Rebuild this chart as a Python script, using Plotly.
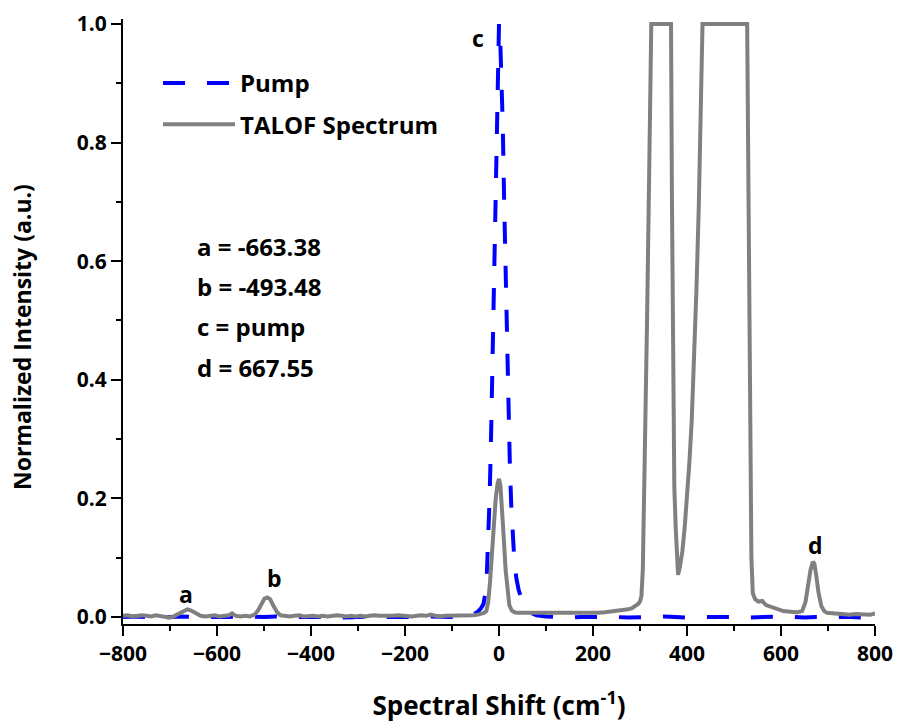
import plotly.graph_objects as go

# Pump line (normalized), spectral shift in cm^-1
pump_x = [-800, -775, -750, -725, -700, -675, -650, -625, -600, -575, -550, -525,
          -500, -475, -450, -425, -400, -375, -350, -325, -300, -275, -250, -225,
          -200, -175, -150, -125, -100, -80, -65, -55, -45, -38, -33, -29, -26,
          -23, -20, -17, -14, -11, -8, -5, -2, 0, 2, 5, 8, 11, 14, 17, 20, 23,
          26, 29, 33, 37, 42, 48, 55, 65, 80, 100, 125, 150, 175, 200, 225, 250,
          275, 300, 325, 350, 375, 400, 425, 450, 475, 500, 525, 550, 575, 600,
          625, 650, 675, 700, 725, 750, 775, 800]
pump_y = [0.000, 0.001, 0.000, -0.001, 0.000, 0.001, 0.000, 0.000, -0.001, 0.000,
          0.001, 0.000, 0.000, 0.001, -0.001, 0.000, 0.000, 0.001, 0.000, -0.001,
          0.000, 0.001, 0.000, 0.000, -0.001, 0.000, 0.001, 0.000, 0.000, 0.001,
          0.002, 0.004, 0.009, 0.015, 0.022, 0.040, 0.070, 0.120, 0.200, 0.300,
          0.430, 0.570, 0.720, 0.860, 0.970, 1.000, 0.990, 0.930, 0.830, 0.700,
          0.570, 0.460, 0.350, 0.260, 0.190, 0.140, 0.090, 0.065, 0.045, 0.030,
          0.018, 0.008, 0.003, 0.001, 0.000, -0.001, 0.000, 0.000, 0.001, 0.000,
          -0.001, 0.000, 0.000, 0.001, 0.000, -0.001, 0.000, 0.000, 0.001, 0.000,
          -0.001, 0.000, 0.000, 0.001, 0.000, -0.001, 0.000, 0.000, 0.001, 0.000,
          -0.001, 0.000]

# TALOF spectrum (normalized, saturated regions clipped at 1.0)
talof_x = [-800, -790, -780, -770, -760, -750, -740, -730, -720, -710, -700, -690,
           -680, -670, -663, -655, -645, -635, -625, -615, -605, -595, -585, -575,
           -568, -560, -550, -540, -530, -520, -512, -505, -499, -493, -487, -480,
           -472, -465, -455, -445, -435, -425, -415, -405, -395, -385, -375, -365,
           -355, -345, -335, -325, -315, -305, -295, -285, -275, -265, -255, -245,
           -235, -225, -215, -205, -195, -185, -175, -165, -155, -145, -135, -125,
           -115, -105, -95, -85, -75, -65, -55, -45, -38, -32, -27, -23, -19, -15,
           -11, -7, -3, 0, 3, 6, 10, 14, 18, 22, 27, 33, 40, 50, 60, 75, 90, 105,
           120, 135, 150, 165, 180, 195, 210, 225, 240, 255, 265, 275, 283, 290,
           296, 300, 303, 306, 309, 311, 315, 319, 322, 324, 330, 340, 350, 360,
           366, 368, 370, 373, 376, 379, 381, 385, 390, 395, 400, 405, 410, 415,
           420, 425, 429, 433, 440, 460, 480, 500, 520, 528, 530, 532, 534, 537,
           540, 545, 552, 560, 568, 578, 590, 605, 620, 635, 645, 652, 658, 663,
           668, 671, 675, 680, 686, 692, 698, 705, 715, 730, 745, 760, 775, 790,
           800]
talof_y = [0.002, 0.003, 0.001, 0.002, 0.003, 0.002, 0.001, 0.003, 0.002, 0.001,
           -0.001, 0.002, 0.006, 0.010, 0.013, 0.011, 0.006, 0.002, 0.001, 0.002,
           0.003, 0.001, 0.002, 0.003, 0.006, 0.002, 0.001, 0.002, 0.001, 0.004,
           0.012, 0.024, 0.031, 0.033, 0.030, 0.019, 0.008, 0.003, 0.002, 0.001,
           0.002, 0.003, 0.001, 0.002, 0.002, 0.001, 0.002, 0.001, 0.002, 0.003,
           0.002, 0.001, 0.002, 0.001, 0.002, 0.001, 0.002, 0.003, 0.002, 0.002,
           0.001, 0.002, 0.003, 0.002, 0.002, 0.001, 0.002, 0.003, 0.002, 0.004,
           0.002, 0.001, 0.002, 0.002, 0.003, 0.002, 0.002, 0.003, 0.003, 0.004,
           0.005, 0.007, 0.010, 0.025, 0.060, 0.110, 0.160, 0.200, 0.225, 0.233,
           0.222, 0.190, 0.135, 0.080, 0.040, 0.020, 0.011, 0.008, 0.007, 0.007,
           0.006, 0.007, 0.006, 0.006, 0.007, 0.006, 0.006, 0.007, 0.006, 0.007,
           0.007, 0.008, 0.009, 0.010, 0.011, 0.013, 0.015, 0.018, 0.022, 0.026,
           0.035, 0.080, 0.200, 0.280, 0.500, 0.720, 0.880, 1.000, 1.000, 1.000,
           1.000, 1.000, 1.000, 0.700, 0.400, 0.220, 0.150, 0.100, 0.071, 0.085,
           0.110, 0.150, 0.200, 0.260, 0.330, 0.430, 0.550, 0.690, 0.830, 1.000,
           1.000, 1.000, 1.000, 1.000, 1.000, 1.000, 0.800, 0.550, 0.280, 0.100,
           0.040, 0.030, 0.026, 0.027, 0.020, 0.017, 0.013, 0.010, 0.009, 0.008,
           0.010, 0.025, 0.055, 0.080, 0.093, 0.090, 0.070, 0.040, 0.018, 0.010,
           0.007, 0.006, 0.006, 0.005, 0.004, 0.005, 0.005, 0.004, 0.006]

# Peak letters drawn just above each line
peak_names = ["a", "b", "c", "d"]
peak_label_x = [-666, -477, -45, 674]
peak_label_y = [0.038, 0.066, 0.976, 0.121]
peak_summary = ["a = -663.38", "b = -493.48", "c = pump", "d = 667.55"]

FONT = "Open Sans"
W, H = 897, 723
L, R, T, B = 123, 22, 19, 99
pw, ph = W - L - R, H - T - B


def px_to_paper(x_px, y_px):
    return (x_px - L) / pw, 1 - (y_px - T) / ph


fig = go.Figure()
fig.add_trace(go.Scatter(
    x=pump_x, y=pump_y, mode="lines", name="Pump", legendgroup="pump",
    line=dict(color="#0000FF", width=4, dash="22px,22px"),
))
fig.add_trace(go.Scatter(
    x=talof_x, y=talof_y, mode="lines", name="TALOF Spectrum", legendgroup="talof",
    line=dict(color="#808080", width=4),
))

bold = lambda s: dict(size=s, color="black", family=FONT, weight="bold")

annotations = []
for name, lx, ly in zip(peak_names, peak_label_x, peak_label_y):
    annotations.append(dict(
        x=lx, y=ly, xref="x", yref="y", text=name, showarrow=False,
        font=bold(23),
    ))
for i, line in enumerate(peak_summary):
    ax, ay = px_to_paper(195, 246 + 40.5 * i)
    annotations.append(dict(
        x=ax, y=ay, xref="paper", yref="paper", text=line,
        showarrow=False, xanchor="left", yanchor="middle", font=bold(24),
    ))

# y-axis title as rotated text
tx, ty = px_to_paper(22, 337)
annotations.append(dict(
    x=tx, y=ty, xref="paper", yref="paper",
    text="Normalized Intensity (a.u.)", textangle=-90, showarrow=False,
    xanchor="center", yanchor="middle", font=bold(23),
))

axis_common = dict(
    showline=True, linecolor="black", linewidth=2, mirror=False,
    ticks="outside", ticklen=10, tickwidth=2, tickcolor="black",
    showgrid=False, zeroline=False, automargin=False,
    tickfont=bold(21),
)

lx, ly = px_to_paper(158, 61)
fig.update_layout(
    width=W, height=H,
    margin=dict(l=L, r=R, t=T, b=B),
    paper_bgcolor="white", plot_bgcolor="white",
    font=dict(family=FONT, color="black"),
    xaxis=dict(
        range=[-800, 800], tickmode="linear", tick0=-800, dtick=200,
        minor=dict(dtick=100, ticks="outside", ticklen=5, tickwidth=2, tickcolor="black"),
        title=dict(text="Spectral Shift (cm<sup>-1</sup>)", standoff=34, font=bold(26)),
        **axis_common,
    ),
    yaxis=dict(
        range=[-0.0118, 1.0084], tickmode="linear", tick0=0, dtick=0.2,
        tickformat=".1f",
        minor=dict(dtick=0.1, ticks="outside", ticklen=5, tickwidth=2, tickcolor="black"),
        **axis_common,
    ),
    legend=dict(
        x=lx, y=ly, xanchor="left", yanchor="top",
        bgcolor="rgba(0,0,0,0)", itemwidth=72, tracegroupgap=7,
        font=bold(24),
    ),
    annotations=annotations,
    showlegend=True,
)

fig.write_html("out.html")
